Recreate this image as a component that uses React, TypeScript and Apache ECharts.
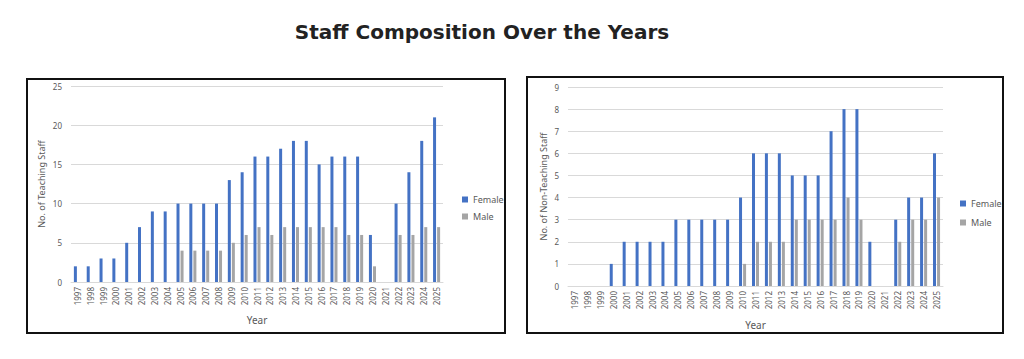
import React, { useEffect, useRef } from "react";
import * as echarts from "echarts";

const years = [
  "1997", "1998", "1999", "2000", "2001", "2002", "2003", "2004", "2005", "2006",
  "2007", "2008", "2009", "2010", "2011", "2012", "2013", "2014", "2015", "2016",
  "2017", "2018", "2019", "2020", "2021", "2022", "2023", "2024", "2025",
];

const teachingFemale = [2, 2, 3, 3, 5, 7, 9, 9, 10, 10, 10, 10, 13, 14, 16, 16, 17, 18, 18, 15, 16, 16, 16, 6, null, 10, 14, 18, 21];
const teachingMale = [null, null, null, null, null, null, null, null, 4, 4, 4, 4, 5, 6, 7, 6, 7, 7, 7, 7, 7, 6, 6, 2, null, 6, 6, 7, 7];

const nonTeachingFemale = [null, null, null, 1, 2, 2, 2, 2, 3, 3, 3, 3, 3, 4, 6, 6, 6, 5, 5, 5, 7, 8, 8, 2, null, 3, 4, 4, 6];
const nonTeachingMale = [null, null, null, null, null, null, null, null, null, null, null, null, null, 1, 2, 2, 2, 3, 3, 3, 3, 4, 3, null, null, 2, 3, 3, 4];

const FEMALE = "#4472C4";
const MALE = "#A5A5A5";
const TXT = "#595959";
const FONT = "Noto Sans";

export default function App() {
  const ref = useRef<HTMLDivElement>(null);
  useEffect(() => {
    document.body.style.margin = "0";
    const chart = echarts.init(ref.current!, null, { renderer: "svg" });
    const xAxisBase = {
      type: "category" as const,
      data: years,
      name: "Year",
      nameLocation: "middle" as const,
      nameTextStyle: { color: TXT, fontSize: 10, fontFamily: FONT },
      axisLine: { lineStyle: { color: "#D9D9D9" } },
      axisTick: { show: false },
      axisLabel: { rotate: 90, fontSize: 8, color: TXT, fontFamily: FONT, interval: 0, margin: 5 },
    };
    const yAxisBase = {
      type: "value" as const,
      nameLocation: "middle" as const,
      nameTextStyle: { color: TXT, fontSize: 9, fontFamily: FONT },
      axisLine: { show: false },
      axisTick: { show: false },
      splitLine: { lineStyle: { color: "#D9D9D9" } },
      axisLabel: { fontSize: 8, color: TXT, fontFamily: FONT, margin: 9 },
    };
    const barBase = { type: "bar" as const, barWidth: 3, barGap: "35%" };
    const legendData = [
      { name: "Female", itemStyle: { color: FEMALE } },
      { name: "Male", itemStyle: { color: MALE } },
    ];
    chart.setOption({
      animation: false,
      title: {
        text: "Staff Composition Over the Years",
        left: 477,
        top: 17,
        textAlign: "center",
        textStyle: { fontFamily: "DejaVu Sans", fontWeight: "bold", fontSize: 20, color: "#222222" },
      },
      graphic: [
        { type: "rect", shape: { x: 27, y: 79, width: 478, height: 254 }, style: { fill: "none", stroke: "#111", lineWidth: 2 } },
        { type: "rect", shape: { x: 527, y: 77, width: 476, height: 256 }, style: { fill: "none", stroke: "#111", lineWidth: 2 } },
      ],
      legend: [
        {
          orient: "vertical",
          left: 457,
          top: 190,
          icon: "rect",
          itemWidth: 6,
          itemHeight: 6,
          itemGap: 8,
          textStyle: { color: TXT, fontSize: 9, fontFamily: FONT },
          data: legendData,
          selectedMode: false,
        },
        {
          orient: "vertical",
          left: 955,
          top: 194,
          icon: "rect",
          itemWidth: 6,
          itemHeight: 6,
          itemGap: 10,
          textStyle: { color: TXT, fontSize: 9, fontFamily: FONT },
          data: legendData,
          selectedMode: false,
        },
      ],
      grid: [
        { left: 71, width: 372, top: 86, height: 196 },
        { left: 568, width: 375, top: 87, height: 199 },
      ],
      xAxis: [
        { ...xAxisBase, gridIndex: 0, nameGap: 33 },
        { ...xAxisBase, gridIndex: 1, nameGap: 34 },
      ],
      yAxis: [
        { ...yAxisBase, gridIndex: 0, min: 0, max: 25, interval: 5, name: "No. of Teaching Staff", nameGap: 25 },
        { ...yAxisBase, gridIndex: 1, min: 0, max: 9, interval: 1, name: "No. of Non-Teaching Staff", nameGap: 20 },
      ],
      series: [
        { ...barBase, name: "Female", xAxisIndex: 0, yAxisIndex: 0, data: teachingFemale, itemStyle: { color: FEMALE } },
        { ...barBase, name: "Male", xAxisIndex: 0, yAxisIndex: 0, data: teachingMale, itemStyle: { color: MALE } },
        { ...barBase, name: "Female", xAxisIndex: 1, yAxisIndex: 1, data: nonTeachingFemale, itemStyle: { color: FEMALE } },
        { ...barBase, name: "Male", xAxisIndex: 1, yAxisIndex: 1, data: nonTeachingMale, itemStyle: { color: MALE } },
      ],
    });
    return () => chart.dispose();
  }, []);
  return <div ref={ref} style={{ width: 1024, height: 359 }} />;
}
